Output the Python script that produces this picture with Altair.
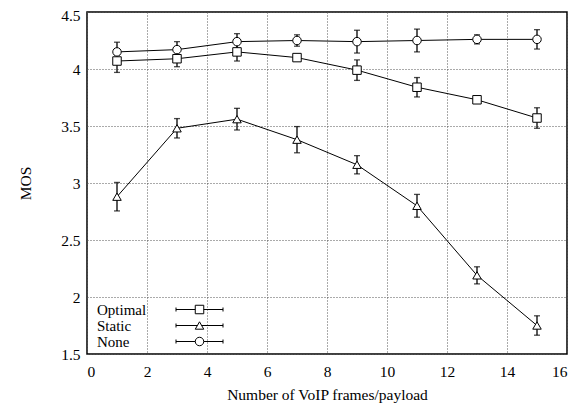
import altair as alt
import pandas as pd

# ---- data ----
x_vals = [1, 3, 5, 7, 9, 11, 13, 15]
series_names = ["Optimal", "Static", "None"]

optimal_mos = [4.07, 4.09, 4.15, 4.10, 3.99, 3.84, 3.73, 3.57]
optimal_err = [0.10, 0.07, 0.08, 0.02, 0.09, 0.085, 0.02, 0.09]

static_mos = [2.88, 3.48, 3.56, 3.38, 3.16, 2.80, 2.19, 1.75]
static_err = [0.125, 0.085, 0.095, 0.115, 0.08, 0.10, 0.075, 0.085]

none_mos = [4.15, 4.17, 4.24, 4.25, 4.24, 4.25, 4.26, 4.26]
none_err = [0.085, 0.07, 0.07, 0.05, 0.10, 0.10, 0.04, 0.085]

x_ticks = [0, 2, 4, 6, 8, 10, 12, 14, 16]
y_ticks = [1.5, 2, 2.5, 3, 3.5, 4, 4.5]

rows = []
for name, mos, err in zip(series_names,
                          [optimal_mos, static_mos, none_mos],
                          [optimal_err, static_err, none_err]):
    for xv, m, e in zip(x_vals, mos, err):
        rows.append({"series": name, "x": xv, "mos": m, "lo": m - e, "hi": m + e})
df = pd.DataFrame(rows)

FONT = "Liberation Serif"
FS = 15.5

x_axis = alt.Axis(values=x_ticks, title="Number of VoIP frames/payload",
                  labelPadding=10, titlePadding=8)
y_axis = alt.Axis(values=y_ticks, format="~g", title="MOS",
                  labelPadding=7, titlePadding=27,
                  labelOffset={"condition": {"test": "datum.value >= 4.5", "value": 3},
                               "value": 0})
x_scale = alt.Scale(domain=[0, 16], nice=False, zero=False)
y_scale = alt.Scale(domain=[1.5, 4.5], nice=False, zero=False)


def X(field="x"):
    return alt.X(f"{field}:Q", scale=x_scale, axis=x_axis)


def Y(field):
    return alt.Y(f"{field}:Q", scale=y_scale, axis=y_axis)


base = alt.Chart(df)

lines = base.mark_line(color="black", strokeWidth=1).encode(
    x=X(), y=Y("mos"), detail="series:N"
)

rules = base.mark_rule(color="black", strokeWidth=1.3).encode(
    x=X(), y=Y("lo"), y2="hi:Q"
)

cap_lo = base.mark_tick(orient="horizontal", size=6, thickness=1.3, color="black").encode(
    x=X(), y=Y("lo")
)
cap_hi = base.mark_tick(orient="horizontal", size=6, thickness=1.3, color="black").encode(
    x=X(), y=Y("hi")
)

points = base.mark_point(filled=True, fill="white", stroke="black",
                         strokeWidth=1, size=72, opacity=1).encode(
    x=X(), y=Y("mos"),
    shape=alt.Shape("series:N",
                    scale=alt.Scale(domain=series_names,
                                    range=["square", "triangle-up", "circle"]),
                    legend=None),
)

# legend symbols (unit = 5 px): error-bar line with end caps, marker in the middle
legend_paths = [
    "M-4.7,-0.4V0.4M-4.7,0H-0.85M-0.85,-0.85H0.85V0.85H-0.85ZM0.85,0H4.7M4.7,-0.4V0.4",
    "M-4.7,-0.4V0.4M-4.7,0H-0.425M0,-0.74L-0.85,0.74L0.85,0.74ZM0.425,0H4.7M4.7,-0.4V0.4",
    "M-4.7,-0.4V0.4M-4.7,0H-0.85M-0.85,0A0.85,0.85,0,1,1,0.85,0A0.85,0.85,0,1,1,-0.85,0ZM0.85,0H4.7M4.7,-0.4V0.4",
]

legend_layer = alt.Chart(df).transform_filter("false").mark_point(
    filled=False, color="black", strokeWidth=1, opacity=1
).encode(
    x=X(), y=Y("mos"),
    shape=alt.Shape("series:N",
                    scale=alt.Scale(domain=series_names, range=legend_paths),
                    legend=alt.Legend(
                        title=None, orient="none", legendX=105, legendY=290,
                        padding=0, symbolSize=100, symbolStrokeWidth=1,
                        symbolStrokeColor="black", symbolOpacity=1,
                        labelOffset={"expr": "-110"}, labelAlign="left",
                        labelFont=FONT, labelFontSize=15, labelColor="black",
                    )),
)

chart = alt.layer(lines, rules, cap_lo, cap_hi, points, legend_layer).resolve_scale(
    shape="independent"
).properties(
    width=480, height=342,
    autosize=alt.AutoSizeParams(type="none"),
    padding={"left": 79, "top": 4, "right": 10, "bottom": 51},
    background="white",
).configure_view(
    stroke="black", strokeWidth=1.5
).configure_axis(
    grid=True, gridDash=[1, 2], gridColor="#555", gridWidth=1,
    domain=False, ticks=False,
    labelFont=FONT, labelFontSize=FS, labelColor="black",
    titleFont=FONT, titleFontSize=FS, titleFontWeight="normal", titleColor="black",
).configure_legend(
    rowPadding=0
)

chart.save("out.html", embed_options={"renderer": "svg", "actions": False})
